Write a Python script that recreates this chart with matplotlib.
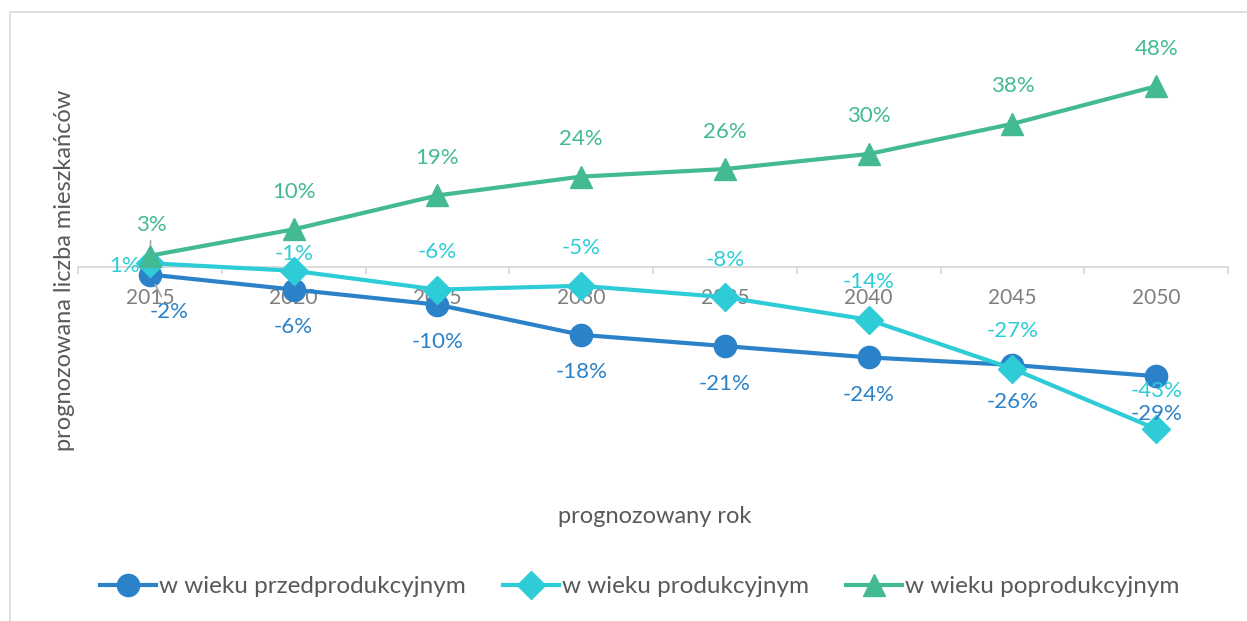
import matplotlib.pyplot as plt
from matplotlib.lines import Line2D
from matplotlib.patches import Rectangle

plt.rcParams['font.family'] = ['Lato', 'DejaVu Sans']

years = ['2015', '2020', '2025', '2030', '2035', '2040', '2045', '2050']
przed = [-2, -6, -10, -18, -21, -24, -26, -29]
prod = [1, -1, -6, -5, -8, -14, -27, -43]
poprod = [3, 10, 19, 24, 26, 30, 38, 48]
names = ['w wieku przedprodukcyjnym', 'w wieku produkcyjnym', 'w wieku poprodukcyjnym']

c_blue = '#2B82C9'
c_cyan = '#2DCCD7'
c_green = '#43B994'
grey_txt = '#595959'

fig = plt.figure(figsize=(12.47, 6.21), dpi=100)
ax = fig.add_axes([0.0626, 0.2061, 0.9222, 0.7279])

x = list(range(len(years)))
ax.plot(x, przed, color=c_blue, lw=3, marker='o', ms=16, zorder=3)
ax.plot(x, prod, color=c_cyan, lw=3, marker='D', ms=14, zorder=4)
ax.plot(x, poprod, color=c_green, lw=3, marker='^', ms=16, zorder=5)

ax.set_xlim(-0.5, 7.5)
ax.set_ylim(-60, 60)
for s in ['top', 'right', 'left']:
    ax.spines[s].set_visible(False)
ax.spines['bottom'].set_position(('data', 0))
ax.spines['bottom'].set_color('#D9D9D9')
ax.spines['bottom'].set_linewidth(1.3)
ax.spines['bottom'].set_zorder(1)
ax.set_yticks([])
ax.set_xticks(x)
ax.set_xticklabels(years)
ax.set_xticks([i - 0.5 for i in range(len(years) + 1)], minor=True)
ax.tick_params(axis='x', which='major', length=0, pad=15, labelsize=15, labelcolor='#7F7F7F')
ax.tick_params(axis='x', which='minor', length=5, width=1.3, color='#D9D9D9')

def lab(xi, v, dx, dy, color, leader=False):
    kw = {}
    if leader:
        kw['arrowprops'] = dict(arrowstyle='-', color='#A6A6A6', lw=1.2, shrinkA=2, shrinkB=8)
    ax.annotate(f'{v}%', (xi, v), xytext=(dx, dy), textcoords='offset points',
                ha='center', va='center', fontsize=16, color=color, zorder=6, **kw)

for i, v in enumerate(przed):
    if i == 0:
        lab(i, v, 14, -27, c_blue, leader=True)
    else:
        lab(i, v, 0, -27, c_blue)
for i, v in enumerate(prod):
    if i == 0:
        lab(i, v, -18, -2, c_cyan)
    elif i == 1:
        lab(i, v, 0, 12, c_cyan)
    else:
        lab(i, v, 0, 27, c_cyan)
for i, v in enumerate(poprod):
    if i == 0:
        lab(i, v, 1, 22, c_green, leader=True)
    else:
        lab(i, v, 0, 27, c_green)

fig.text(0.052, 0.565, 'prognozowana liczba mieszkańców', rotation=90, fontsize=17,
         color=grey_txt, ha='center', va='center')
fig.text(0.525, 0.169, 'prognozowany rok', fontsize=17, color=grey_txt,
         ha='center', va='center')

handles = [
    Line2D([], [], color=c_blue, lw=3, marker='o', ms=16),
    Line2D([], [], color=c_cyan, lw=3, marker='D', ms=14),
    Line2D([], [], color=c_green, lw=3, marker='^', ms=16),
]
fig.legend(handles, names, loc='center', bbox_to_anchor=(0.513, 0.055), ncol=3,
           frameon=False, fontsize=17.5, labelcolor=grey_txt, handlelength=2.3,
           handletextpad=0.15, columnspacing=1.5)

fig.patches.append(Rectangle((10 / 1247, -0.1), 1.2, 1 - 12 / 621 + 0.1,
                             transform=fig.transFigure, fill=False,
                             edgecolor='#D9D9D9', lw=1.2))

fig.savefig('out.png', dpi=100)
